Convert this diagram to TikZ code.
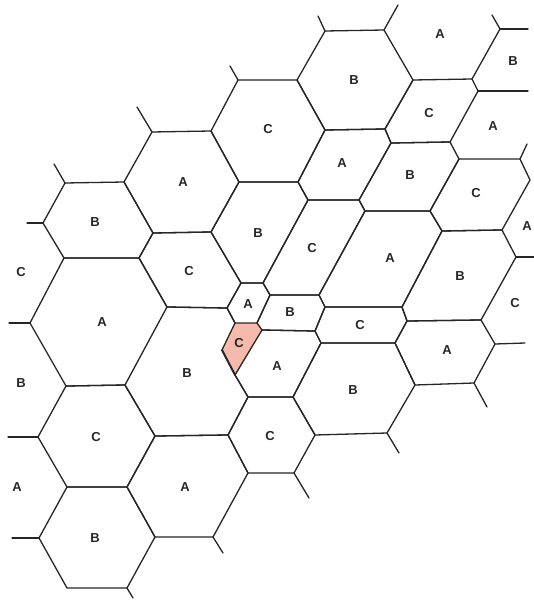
\documentclass[tikz,border=0pt]{standalone}
\usepackage{fontspec}
\setmainfont{Liberation Sans}
\definecolor{cellpink}{RGB}{246,186,172}
\begin{document}
\begin{tikzpicture}[x=1pt,y=-1pt,
  edge/.style={line width=1.3pt, draw=black!85, line cap=round, line join=round},
  lab/.style={font=\fontsize{13}{14}\selectfont\bfseries, inner sep=0pt, text=black!85}]
\useasboundingbox (0,0) rectangle (534,601);
% vertices
\coordinate (v1) at (64,258);  \coordinate (v2) at (139,258); \coordinate (v3) at (167,307);
\coordinate (v4) at (125,385); \coordinate (v5) at (66,386);  \coordinate (v6) at (30,323);
\coordinate (u1) at (65,183);  \coordinate (u2) at (124,182); \coordinate (u3) at (153,233);
\coordinate (u4) at (43,223);
\coordinate (a1) at (152,132); \coordinate (a2) at (211,131); \coordinate (a3) at (239,182);
\coordinate (a4) at (211,232);
\coordinate (s1) at (241,283); \coordinate (s2) at (263,283); \coordinate (s3) at (270,295);
\coordinate (s4) at (257,323); \coordinate (s5) at (235,323); \coordinate (s6) at (227,308);
\coordinate (c1) at (238,80);  \coordinate (c2) at (297,80);  \coordinate (c3) at (325,130);
\coordinate (c4) at (298,182);
\coordinate (t1) at (325,31);  \coordinate (t2) at (384,30);  \coordinate (t3) at (413,80);
\coordinate (t4) at (385,129); \coordinate (t5) at (391,143);
\coordinate (m1) at (308,200); \coordinate (m2) at (359,200); \coordinate (m3) at (365,211);
\coordinate (r1) at (472,79);  \coordinate (r2) at (478,91);  \coordinate (r3) at (450,142);
\coordinate (r4) at (459,159); \coordinate (r5) at (430,211); \coordinate (r6) at (520,159);
\coordinate (r7) at (530,180); \coordinate (r8) at (502,230); \coordinate (r9) at (442,231);
\coordinate (r10) at (516,257);
\coordinate (b2) at (319,295); \coordinate (b3) at (325,307); \coordinate (b4) at (315,331);
\coordinate (b5) at (262,330); \coordinate (b6) at (321,343);
\coordinate (k1) at (402,307); \coordinate (k2) at (407,321); \coordinate (k3) at (481,320);
\coordinate (k4) at (395,343); \coordinate (k5) at (495,344); \coordinate (k6) at (474,383);
\coordinate (k7) at (415,385); \coordinate (k8) at (387,433);
\coordinate (p1) at (222,350); \coordinate (p2) at (235,375);
\coordinate (q1) at (248,397); \coordinate (q2) at (293,397); \coordinate (q3) at (315,435);
\coordinate (q4) at (294,473); \coordinate (q5) at (248,473);
\coordinate (w1) at (228,435); \coordinate (w2) at (155,436); \coordinate (w3) at (127,487);
\coordinate (w4) at (67,487);  \coordinate (w5) at (38,437);
\coordinate (z1) at (213,537); \coordinate (z2) at (155,537); \coordinate (z3) at (127,588);
\coordinate (z4) at (67,588);  \coordinate (z5) at (39,538);
\coordinate (x1) at (500,29);
% free ends
\coordinate (e1) at (230,66);  \coordinate (e2) at (137,107); \coordinate (e3) at (54,164);
\coordinate (e4) at (27,223);  \coordinate (e5) at (9,323);   \coordinate (e6) at (8,437);
\coordinate (e7) at (12,538);  \coordinate (e8) at (318,16);  \coordinate (e9) at (398,5);
\coordinate (e10) at (492,15); \coordinate (e11) at (528,29); \coordinate (e12) at (528,91);
\coordinate (e13) at (527,144);\coordinate (e14) at (534,257); \coordinate (e15) at (525,343);
\coordinate (e16) at (487,407);\coordinate (e17) at (399,453); \coordinate (e18) at (309,498);
\coordinate (e19) at (223,553);\coordinate (e20) at (133,598);
% pink cell
\fill[cellpink] (s5)--(s4)--(b5)--(p2)--(p1)--cycle;
% cells
\draw[edge] (v1)--(v2)--(v3)--(v4)--(v5)--(v6)--cycle;
\draw[edge] (u1)--(u2)--(u3)--(v2)--(v1)--(u4)--cycle;
\draw[edge] (a1)--(a2)--(a3)--(a4)--(u3)--(u2)--cycle;
\draw[edge] (u3)--(a4)--(s1)--(s6)--(v3)--(v2)--cycle;
\draw[edge] (s1)--(s2)--(s3)--(s4)--(s5)--(s6)--cycle;
\draw[edge] (c1)--(c2)--(c3)--(c4)--(a3)--(a2)--cycle;
\draw[edge] (a3)--(c4)--(m1)--(s2)--(s1)--(a4)--cycle;
\draw[edge] (t1)--(t2)--(t3)--(t4)--(c3)--(c2)--cycle;
\draw[edge] (c3)--(t4)--(t5)--(m2)--(m1)--(c4)--cycle;
\draw[edge] (t3)--(r1)--(r2)--(r3)--(t5)--(t4)--cycle;
\draw[edge] (t5)--(r3)--(r4)--(r5)--(m3)--(m2)--cycle;
\draw[edge] (r4)--(r6)--(r7)--(r8)--(r9)--(r5)--cycle;
\draw[edge] (m1)--(m2)--(m3)--(b2)--(s3)--(s2)--cycle;
\draw[edge] (s3)--(b2)--(b3)--(b4)--(b5)--(s4)--cycle;
\draw[edge] (m3)--(r5)--(r9)--(k1)--(b3)--(b2)--cycle;
\draw[edge] (r9)--(r8)--(r10)--(k3)--(k2)--(k1)--cycle;
\draw[edge] (b3)--(k1)--(k2)--(k4)--(b6)--(b4)--cycle;
\draw[edge] (k2)--(k3)--(k5)--(k6)--(k7)--(k4)--cycle;
\draw[edge] (b5)--(b4)--(b6)--(q2)--(q1)--(p2)--cycle;
\draw[edge] (v3)--(s6)--(s5)--(p1)--(p2)--(q1)--(w1)--(w2)--(v4);
\draw[edge] (b6)--(k4)--(k7)--(k8)--(q3)--(q2)--cycle;
\draw[edge] (q1)--(q2)--(q3)--(q4)--(q5)--(w1)--cycle;
\draw[edge] (w2)--(w1)--(q5)--(z1)--(z2)--(w3)--cycle;
\draw[edge] (v5)--(v4)--(w2)--(w3)--(w4)--(w5)--cycle;
\draw[edge] (w4)--(w3)--(z2)--(z3)--(z4)--(z5)--cycle;
\draw[edge, line width=1.9pt] (p1)--(p2);
% dangling edges
\draw[edge] (c1)--(e1); \draw[edge] (a1)--(e2); \draw[edge] (u1)--(e3);
\draw[edge] (u4)--(e4); \draw[edge] (v6)--(e5); \draw[edge] (w5)--(e6);
\draw[edge] (z5)--(e7); \draw[edge] (t1)--(e8); \draw[edge] (t2)--(e9);
\draw[edge] (r1)--(x1); \draw[edge] (x1)--(e10); \draw[edge] (x1)--(e11);
\draw[edge] (r2)--(e12); \draw[edge] (r6)--(e13); \draw[edge] (r10)--(e14);
\draw[edge] (k5)--(e15); \draw[edge] (k6)--(e16); \draw[edge] (k8)--(e17);
\draw[edge] (q4)--(e18); \draw[edge] (z1)--(e19); \draw[edge] (z3)--(e20);
% labels
\node[lab] (L1) at (95,222) {B};
\node[lab] (L2) at (183,182) {A};
\node[lab] (L3) at (268,129) {C};
\node[lab] (L4) at (354,80) {B};
\node[lab] (L5) at (440,34) {A};
\node[lab] (L6) at (513,61) {B};
\node[lab] (L7) at (429,113) {C};
\node[lab] (L8) at (493,126) {A};
\node[lab] (L9) at (342,163) {A};
\node[lab] (L10) at (410,175) {B};
\node[lab] (L11) at (476,193) {C};
\node[lab] (L12) at (527,226) {A};
\node[lab] (L13) at (258,233) {B};
\node[lab] (L14) at (312,248) {C};
\node[lab] (L15) at (390,258) {A};
\node[lab] (L16) at (460,276) {B};
\node[lab] (L17) at (515,303) {C};
\node[lab] (L18) at (189,271) {C};
\node[lab] (L19) at (248,304) {A};
\node[lab] (L20) at (290,312) {B};
\node[lab] (L21) at (360,325) {C};
\node[lab] (L22) at (447,350) {A};
\node[lab] (L23) at (102,322) {A};
\node[lab] (L24) at (187,373) {B};
\node[lab] (L25) at (239,343) {C};
\node[lab] (L26) at (277,366) {A};
\node[lab] (L27) at (353,390) {B};
\node[lab] (L28) at (270,436) {C};
\node[lab] (L29) at (96,437) {C};
\node[lab] (L30) at (185,487) {A};
\node[lab] (L31) at (95,538) {B};
\node[lab] (L32) at (21,272) {C};
\node[lab] (L33) at (21,383) {B};
\node[lab] (L34) at (17,487) {A};
\end{tikzpicture}
\end{document}
